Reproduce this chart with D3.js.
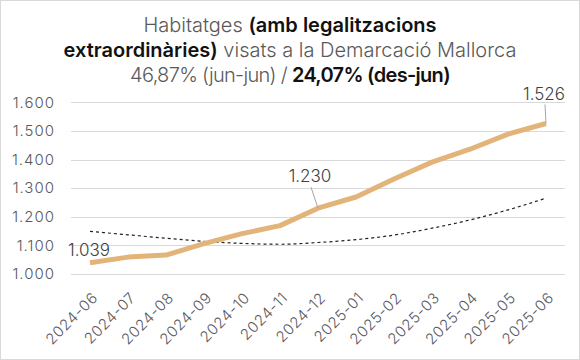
<!DOCTYPE html>
<html><head><meta charset="utf-8">
<script src="https://cdn.jsdelivr.net/npm/d3@7"></script>
<style>
html,body{margin:0;padding:0;background:#fff;}
svg{display:block;}
</style></head>
<body>
<svg id="chart" width="580" height="360"></svg>
<script>
const categories = ["2024-06","2024-07","2024-08","2024-09","2024-10","2024-11","2024-12","2025-01","2025-02","2025-03","2025-04","2025-05","2025-06"];
const habitatges = [1039,1059,1066,1106,1141,1169,1230,1269,1332,1391,1436,1489,1526];
const tendencia = [1149,1137,1125,1114,1107,1104,1110,1120,1136,1160,1189,1224,1265];
const yTicks = [1000,1100,1200,1300,1400,1500,1600];
const titleLines = [
  [["Habitatges ", false],["(amb legalitzacions", true]],
  [["extraordinàries)", true],[" visats a la Demarcació Mallorca", false]],
  [["46,87% (jun-jun) / ", false],["24,07% (des-jun)", true]]
];

const W = 580, H = 360;
const svg = d3.select("#chart");
const FONT = "Inter, 'Noto Sans', sans-serif";

svg.append("rect").attr("x",0.5).attr("y",0.5).attr("width",W-1).attr("height",H-1)
  .attr("fill","#fff").attr("stroke","#d9d9d9");

const x = d3.scaleBand().domain(categories).range([71,565]);
const y = d3.scaleLinear().domain([1000,1600]).range([274,102.3]);
const cx = d => x(d) + x.bandwidth()/2;

// gridlines
svg.append("g").selectAll("line").data(yTicks).join("line")
  .attr("x1",71).attr("x2",565).attr("y1",d=>Math.round(y(d))+0.5).attr("y2",d=>Math.round(y(d))+0.5)
  .attr("stroke","#d9d9d9").attr("stroke-width",1);

const fmt = d => d3.format(",")(d).replace(/,/g,".");

// y axis
const yAxis = d3.axisLeft(y).tickValues(yTicks).tickSize(0).tickPadding(0).tickFormat(fmt);
const ga = svg.append("g").attr("transform","translate(55,0)").call(yAxis);
ga.select(".domain").remove();
ga.selectAll("text").attr("fill","#595959").style("font-family",FONT).style("font-size","15px")
  .style("font-weight","300").style("letter-spacing","1px");

// x axis
const xAxis = d3.axisBottom(x).tickSize(0).tickPadding(0);
const gx = svg.append("g").attr("transform","translate(0,295)").call(xAxis);
gx.select(".domain").remove();
gx.selectAll("text").attr("fill","#595959").style("font-family",FONT).style("font-size","15px")
  .style("font-weight","300").style("letter-spacing","0.6px")
  .attr("text-anchor","end").attr("dy","0.35em")
  .attr("transform","translate(5,0) rotate(-45)");

// trend line
svg.append("path").datum(tendencia)
  .attr("fill","none").attr("stroke","#222").attr("stroke-width",1.2).attr("stroke-dasharray","3,3")
  .attr("d", d3.line().x((d,i)=>cx(categories[i])).y(d=>y(d)).curve(d3.curveMonotoneX));

// main line
svg.append("path").datum(habitatges)
  .attr("fill","none").attr("stroke","#e3b479").attr("stroke-width",5).attr("stroke-linejoin","round")
  .attr("d", d3.line().x((d,i)=>cx(categories[i])).y(d=>y(d)));

// data labels
const lab = svg.append("g").style("font-family",FONT).style("font-size","17px").style("font-weight","300").attr("fill","#404040");
{
  const i=0; const px=cx(categories[i]), py=y(habitatges[i]);
  lab.append("text").attr("x",px-1).attr("y",py-13).attr("dy","0.35em").attr("text-anchor","middle").text(fmt(habitatges[i]));
}
{
  const i=6; const px=cx(categories[i]), py=y(habitatges[i]);
  svg.append("line").attr("x1",px-7).attr("y1",py-21).attr("x2",px).attr("y2",py).attr("stroke","#a6a6a6").attr("stroke-width",1);
  lab.append("text").attr("x",px-8).attr("y",py-32).attr("dy","0.35em").attr("text-anchor","middle").text(fmt(habitatges[i]));
}
{
  const i=12; const px=cx(categories[i]), py=y(habitatges[i]);
  svg.append("line").attr("x1",px-1).attr("y1",py-19).attr("x2",px).attr("y2",py).attr("stroke","#a6a6a6").attr("stroke-width",1);
  lab.append("text").attr("x",px-2).attr("y",py-29).attr("dy","0.35em").attr("text-anchor","middle").text(fmt(habitatges[i]));
}

// title
const tg = svg.append("g").style("font-family",FONT).style("font-size","20px");
const baselines = [32,57,82];
titleLines.forEach((parts,li)=>{
  const t = tg.append("text").attr("x",290).attr("y",baselines[li]).attr("text-anchor","middle");
  parts.forEach(([s,b])=>{
    t.append("tspan").text(s).attr("fill", b?"#111":"#595959").style("font-weight", b?"600":"300")
      .style("letter-spacing", li===2 ? "-0.7px" : "0px");
  });
});
</script>
</body></html>
